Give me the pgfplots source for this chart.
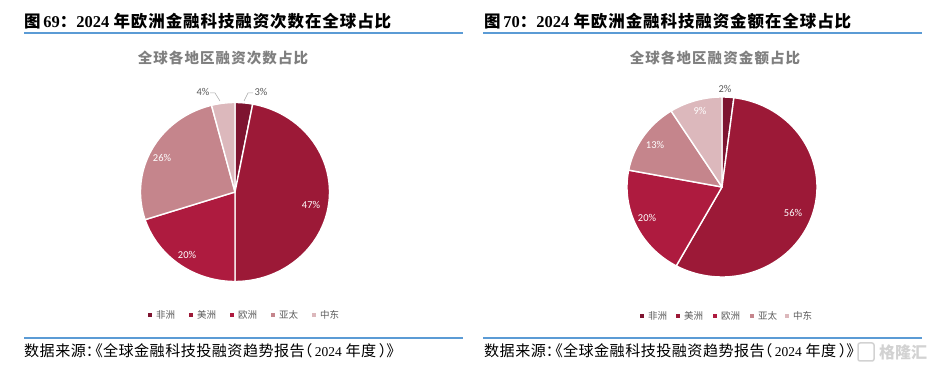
\documentclass[border=0pt]{standalone}
\usepackage{pgfplots}
\pgfplotsset{compat=1.18}
\usepackage{pgfplotstable}
\usepackage{fontspec}
\setmainfont{Liberation Serif}
\newfontfamily\cjk{Noto Sans CJK SC}
\newfontfamily\cjkt{Noto Sans CJK SC}[LetterSpace=5.5]
\newfontfamily\cjki{Noto Sans CJK SC}[LetterSpace=7.5]
\newfontfamily\cjks{Noto Sans CJK SC}[LetterSpace=3]
\newfontfamily\cjkh{Noto Sans CJK SC}[RawFeature=+halt]
\newfontfamily\lab{Carlito}
\definecolor{cAF}{HTML}{7E1430}
\definecolor{cAM}{HTML}{9C1937}
\definecolor{cEU}{HTML}{AE1B3F}
\definecolor{cAP}{HTML}{C5858C}
\definecolor{cME}{HTML}{DCB8BC}
\definecolor{cBlue}{HTML}{5B9BD5}
\definecolor{cGray}{HTML}{7F7F7F}
\definecolor{cTxt}{HTML}{595959}

% share of deals (count)
\pgfplotstableread{
region pct col
非洲 3 cAF
美洲 47 cAM
欧洲 20 cEU
亚太 26 cAP
中东 4 cME
}\tabCount
% share of funding amount
\pgfplotstableread{
region pct col
非洲 2 cAF
美洲 56 cAM
欧洲 20 cEU
亚太 13 cAP
中东 9 cME
}\tabAmount

\newcommand\pieslices[1]{%
  \pgfplotstablegetrowsof{#1}%
  \pgfmathtruncatemacro\nrows{\pgfplotsretval-1}%
  \gdef\cum{0}%
  \pgfplotsforeachungrouped \i in {0,...,\nrows}{%
    \pgfplotstablegetelem{\i}{pct}\of{#1}\let\v\pgfplotsretval
    \pgfplotstablegetelem{\i}{col}\of{#1}\let\c\pgfplotsretval
    \pgfmathsetmacro\a{90-3.6*\cum}%
    \pgfmathsetmacro\b{90-3.6*(\cum+\v)}%
    \edef\tmp{\noexpand\addplot[fill=\c, draw=white, line width=1.4pt, line join=round, domain=\b:\a, samples=80, variable=\noexpand\t] ({cos(\noexpand\t)},{sin(\noexpand\t)}) -- (axis cs:0,0) -- cycle;}%
    \tmp
    \pgfmathsetmacro\cumn{\cum+\v}%
    \xdef\cum{\cumn}%
  }%
}

\newcommand\leg[3]{%
  \fill[#3] (#1-1.8,#2-1.8) rectangle (#1+1.8,#2+1.8);
}
\newcommand\source{\fontsize{15.1}{15.1}\selectfont{\cjks 数据来源}{\cjkh ：}\hspace{2pt}{\cjkh 《}{\cjks 全球金融科技投融资趋势报告}{\cjkh （}\,{\fontsize{13.5}{13.5}\selectfont 2024} {\cjks 年度}\,{\cjkh ）》}}

\begin{document}
\begin{tikzpicture}[x=1pt,y=1pt]
\path[use as bounding box] (0,0) rectangle (940,-371);

% ---------- titles ----------
\node[anchor=west, inner sep=0pt] at (24,-21) {\fontsize{16.5}{16.5}\selectfont\bfseries{\cjkt 图}\,69{\cjkt ：}2024 {\cjkt 年欧洲金融科技融资次数在全球占比}};
\node[anchor=west, inner sep=0pt] at (484,-21) {\fontsize{16.5}{16.5}\selectfont\bfseries{\cjkt 图}\,70{\cjkt ：}2024 {\cjkt 年欧洲金融科技融资金额在全球占比}};
\draw[cBlue, line width=1.2pt] (24,-33) -- (463,-33);
\draw[cBlue, line width=1.2pt] (483,-33) -- (922,-33);

\node[inner sep=0pt, text=cGray] at (223,-58) {\fontsize{14.5}{14.5}\selectfont\cjki\bfseries 全球各地区融资次数占比};
\node[inner sep=0pt, text=cGray] at (715,-58) {\fontsize{14.5}{14.5}\selectfont\cjki\bfseries 全球各地区融资金额占比};

% ---------- pies ----------
\begin{axis}[at={(235pt,-192pt)}, anchor=center, width=189pt, height=179pt,
  scale only axis, hide axis, xmin=-1, xmax=1, ymin=-1, ymax=1, clip=false]
\pieslices{\tabCount}
\end{axis}
\begin{axis}[at={(722pt,-187pt)}, anchor=center, width=190pt, height=180pt,
  scale only axis, hide axis, xmin=-1, xmax=1, ymin=-1, ymax=1, clip=false]
\pieslices{\tabAmount}
\end{axis}

% ---------- data labels ----------
\begin{scope}[every node/.style={inner sep=0pt, font=\lab\fontsize{10.5}{10.5}\selectfont}]
\node[text=cTxt] at (261,-92) {3\%};
\node[text=cTxt] at (203,-92) {4\%};
\node[text=white] at (311,-205) {47\%};
\node[text=white] at (187,-255) {20\%};
\node[text=white] at (162,-158) {26\%};
\node[text=cTxt] at (725,-89) {2\%};
\node[text=white] at (700,-111) {9\%};
\node[text=white] at (655,-145) {13\%};
\node[text=white] at (647,-218) {20\%};
\node[text=white] at (793,-213) {56\%};
\end{scope}
\draw[gray!70, line width=0.5pt] (253,-93) -- (248,-93) -- (244,-101);
\draw[gray!70, line width=0.5pt] (210,-93) -- (215,-93) -- (220,-101);

% ---------- legends ----------
\begin{scope}[every node/.style={inner sep=0pt, anchor=west, text=cTxt, font=\cjk\fontsize{9.5}{9.5}\selectfont}]
\leg{150}{-315}{cAF}\node at (156,-315) {非洲};
\leg{191}{-315}{cAM}\node at (197,-315) {美洲};
\leg{232}{-315}{cEU}\node at (238,-315) {欧洲};
\leg{273}{-315}{cAP}\node at (279,-315) {亚太};
\leg{314}{-315}{cME}\node at (320,-315) {中东};
\leg{642}{-316}{cAF}\node at (648,-316) {非洲};
\leg{678}{-316}{cAM}\node at (684,-316) {美洲};
\leg{715}{-316}{cEU}\node at (721,-316) {欧洲};
\leg{752}{-316}{cAP}\node at (758,-316) {亚太};
\leg{787}{-316}{cME}\node at (793,-316) {中东};
\end{scope}

% ---------- source ----------
\draw[cBlue, line width=1.2pt] (24,-338) -- (463,-338);
\draw[cBlue, line width=1.2pt] (483,-338) -- (922,-338);
\node[anchor=west, inner sep=0pt] at (24,-351) {\source};
\node[anchor=west, inner sep=0pt] at (484,-351) {\source};
\node[inner sep=0pt, text=gray!35] at (903,-352) {\fontsize{16}{16}\selectfont\cjk\bfseries 格隆汇};
\draw[gray!35, line width=1.5pt, rounded corners=2pt] (858,-343) rectangle (874,-361);
\end{tikzpicture}
\end{document}
